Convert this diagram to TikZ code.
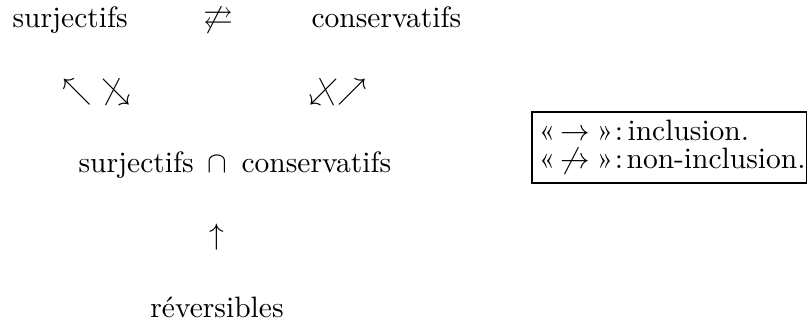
\documentclass[tikz,border=0pt]{standalone}
\usepackage{fontspec}
\usepackage{amssymb}
\begin{document}
\begin{tikzpicture}[x=0.339pt,y=-0.339pt,
  lbl/.style={inner sep=0pt, font=\fontsize{10}{12}\selectfont},
  sym/.style={inner sep=0pt, font=\fontsize{10}{12}\selectfont}]
\useasboundingbox (0,0) rectangle (807,322);
% row 1
\node[lbl, anchor=base west] (s1) at (12,28) {surjectifs};
\node[sym, anchor=base] (ne) at (218,28) {$\not\rightleftarrows$};
\node[lbl, anchor=base west] (c1) at (311,28) {conservatifs};
% row 2
\node[sym] (a1) at (77,92) {$\nwarrow$};
\node[sym] (a2) at (116,92) {$\not\searrow$};
\node[sym] (a3) at (324,92) {\reflectbox{$\not\searrow$}};
\node[sym] (a4) at (352,92) {$\nearrow$};
% row 3
\node[lbl, anchor=base west] (s2) at (78,172) {surjectifs};
\node[sym, anchor=base] (cap) at (217,172) {$\cap$};
\node[lbl, anchor=base west] (c2) at (241,172) {conservatifs};
% row 4
\node[sym] (up) at (217,237) {$\uparrow$};
% row 5
\node[lbl, anchor=base] (rev) at (217,317) {réversibles};
% legend
\draw[line width=0.4pt] (532,112) rectangle (806.5,183);
\node[lbl, anchor=base] (g1) at (547,141) {«};
\node[sym, anchor=base] (r1) at (575,141) {$\rightarrow$};
\node[lbl, anchor=base] (d1) at (605,141) {»};
\node[lbl, anchor=base] (k1) at (619,141) {:};
\node[lbl, anchor=base west] (l1) at (627,141) {inclusion.};
\node[lbl, anchor=base] (g2) at (547,169) {«};
\node[sym, anchor=base] (r2) at (575,169) {$\not\rightarrow$};
\node[lbl, anchor=base] (d2) at (605,169) {»};
\node[lbl, anchor=base] (k2) at (619,169) {:};
\node[lbl, anchor=base west] (l2) at (626,169) {non-inclusion.};
\end{tikzpicture}
\end{document}
